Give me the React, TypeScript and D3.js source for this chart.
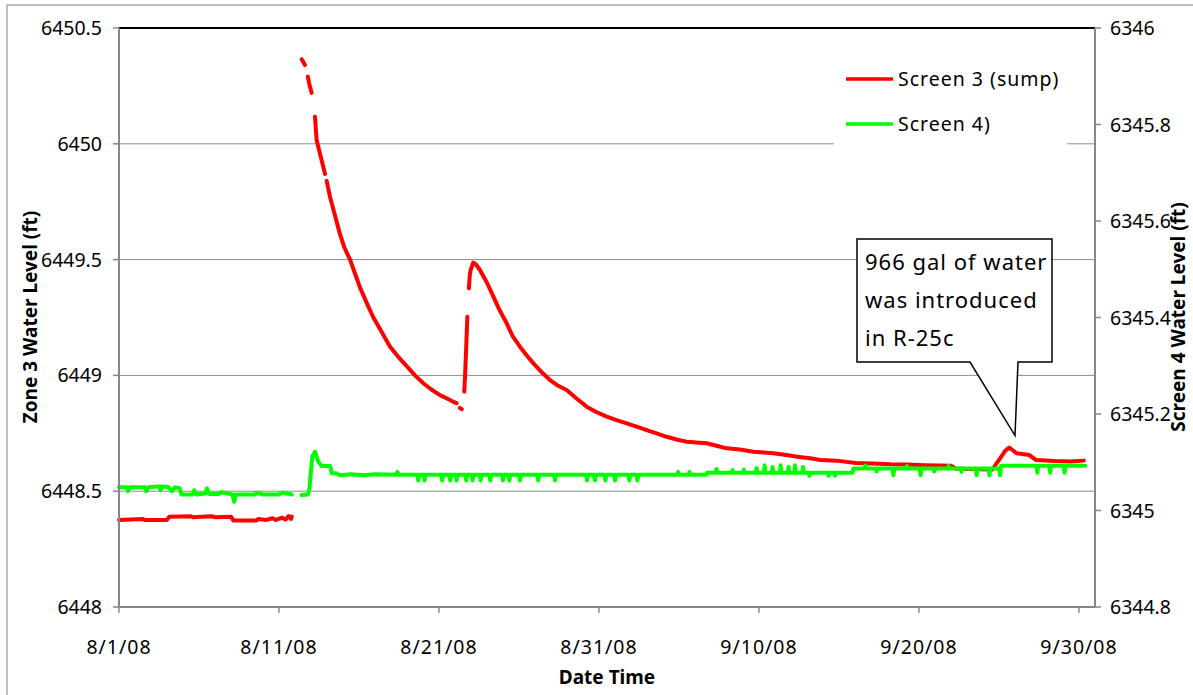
import React from 'react';
import * as d3 from 'd3';

// ---------- data ----------
const START = new Date(2008, 7, 1);
const END = new Date(2008, 9, 1);
const xTickDays = [0, 10, 20, 30, 40, 50, 60];
const leftTicks = [6448, 6448.5, 6449, 6449.5, 6450, 6450.5];
const rightTicks = [6344.8, 6345, 6345.2, 6345.4, 6345.6, 6345.8, 6346];
const gridTicks = [6448.5, 6449, 6449.5, 6450];
const seriesNames = ['Screen 3 (sump)', 'Screen 4)'];
const seriesColors = ['#ff0000', '#00ff00'];
const calloutLines = ['966 gal of water', 'was introduced', 'in R-25c'];
const calloutTarget: [number, number] = [56.0, 6448.74];
const xTitle = 'Date Time';
const leftTitle = 'Zone 3 Water Level (ft)';
const rightTitle = 'Screen 4 Water Level (ft)';

type P = [number, number | null];

// Screen 3 (sump): [day since 8/1/08, level ft] on left axis
const screen3: P[] = [
  [0, 6448.376], [1.5, 6448.38], [1.6, 6448.376], [3.0, 6448.376], [3.15, 6448.39],
  [4.5, 6448.392], [4.6, 6448.388], [5.8, 6448.392], [6.0, 6448.388], [7.0, 6448.39],
  [7.15, 6448.374], [8.6, 6448.374], [8.7, 6448.38], [9.2, 6448.376], [9.6, 6448.383],
  [9.8, 6448.376], [10.2, 6448.386], [10.4, 6448.377], [10.6, 6448.392], [10.75, 6448.38],
  [10.8, 6448.39],
  [10.9, null],
  [11.42, 6450.365], [11.5, 6450.355], [11.62, 6450.34],
  [11.7, null],
  [11.8, 6450.29], [11.92, 6450.25], [12.04, 6450.22],
  [12.1, null],
  [12.25, 6450.117], [12.35, 6450.016], [12.55, 6449.96], [12.77, 6449.9], [12.88, 6449.87],
  [12.92, null],
  [12.98, 6449.84], [13.19, 6449.77], [13.5, 6449.69], [13.81, 6449.61], [14.1, 6449.55],
  [14.44, 6449.5], [14.75, 6449.44], [15.06, 6449.38], [15.5, 6449.31], [15.9, 6449.25],
  [16.4, 6449.19], [16.94, 6449.124], [17.45, 6449.08], [17.98, 6449.04], [18.5, 6449.0],
  [19.02, 6448.966], [19.5, 6448.94], [20.06, 6448.915], [20.5, 6448.9], [20.9, 6448.886],
  [21.1, 6448.88],
  [21.2, null],
  [21.3, 6448.86], [21.42, 6448.854],
  [21.5, null],
  [21.58, 6448.93], [21.63, 6449.0], [21.7, 6449.12], [21.77, 6449.253],
  [21.82, null],
  [21.87, 6449.376], [21.92, 6449.43], [21.98, 6449.455], [22.14, 6449.487], [22.3, 6449.48],
  [22.56, 6449.455], [23.0, 6449.4], [23.4, 6449.34], [23.8, 6449.28], [24.23, 6449.225],
  [24.6, 6449.17], [25.06, 6449.124], [25.5, 6449.085], [25.9, 6449.052], [26.4, 6449.015],
  [26.94, 6448.98], [27.45, 6448.955], [27.98, 6448.937], [28.6, 6448.9], [29.23, 6448.865],
  [29.8, 6448.843], [30.48, 6448.822], [31.1, 6448.807], [31.73, 6448.793], [32.4, 6448.778],
  [32.98, 6448.764], [33.6, 6448.75], [34.23, 6448.735], [34.9, 6448.722], [35.48, 6448.714],
  [36.1, 6448.71], [36.73, 6448.707], [37.4, 6448.695], [37.98, 6448.685], [38.8, 6448.68],
  [39.65, 6448.67], [40.3, 6448.667], [40.9, 6448.664], [41.7, 6448.656], [42.5, 6448.648],
  [43.2, 6448.642], [43.84, 6448.635], [44.85, 6448.632], [46.04, 6448.622], [47.1, 6448.62],
  [48.23, 6448.616], [49.2, 6448.615], [50.4, 6448.612], [51.3, 6448.611], [52.0, 6448.61],
  [52.3, 6448.598], [53.0, 6448.596], [54.6, 6448.594], [54.75, 6448.61], [55.1, 6448.645],
  [55.4, 6448.675], [55.64, 6448.688], [55.8, 6448.68], [56.1, 6448.664], [56.9, 6448.656],
  [57.3, 6448.635], [58.5, 6448.63], [59.5, 6448.628], [60.3, 6448.632],
];

// Screen 4: [day since 8/1/08, level ft] on right axis
const screen4: P[] = [
  [0, 6345.048], [0.5, 6345.048], [0.55, 6345.04], [0.7, 6345.048], [1.6, 6345.048],
  [1.7, 6345.04], [1.85, 6345.048], [2.5, 6345.05], [2.6, 6345.042], [2.7, 6345.05],
  [3.1, 6345.048], [3.3, 6345.04], [3.5, 6345.048], [3.8, 6345.046], [3.9, 6345.033],
  [4.6, 6345.033], [4.7, 6345.042], [4.85, 6345.033], [5.4, 6345.035], [5.5, 6345.046],
  [5.65, 6345.034], [6.2, 6345.034], [6.4, 6345.038], [7.1, 6345.033], [7.2, 6345.018],
  [7.3, 6345.033], [8.5, 6345.033], [8.6, 6345.037], [9.0, 6345.033], [10.0, 6345.033],
  [10.2, 6345.037], [10.8, 6345.033],
  [11.0, null],
  [11.42, 6345.032], [11.8, 6345.033], [11.9, 6345.045], [12.08, 6345.112], [12.25, 6345.122],
  [12.46, 6345.101], [12.67, 6345.092], [13.2, 6345.092], [13.3, 6345.077], [13.6, 6345.077],
  [13.8, 6345.073], [14.5, 6345.075], [15.3, 6345.073], [16.0, 6345.075], [17.3, 6345.074],
  [17.4, 6345.08], [17.5, 6345.074],
  [18.65, 6345.074], [18.7, 6345.062], [18.75, 6345.074], [19.05, 6345.074], [19.1, 6345.062], [19.15, 6345.074],
  [20.15, 6345.074], [20.2, 6345.062], [20.25, 6345.074], [20.65, 6345.074], [20.7, 6345.062], [20.75, 6345.074],
  [21.05, 6345.074], [21.1, 6345.062], [21.15, 6345.074], [21.65, 6345.074], [21.7, 6345.062], [21.75, 6345.074],
  [22.05, 6345.074], [22.1, 6345.062], [22.15, 6345.074], [22.55, 6345.074], [22.6, 6345.062], [22.65, 6345.074],
  [23.15, 6345.074], [23.2, 6345.062], [23.25, 6345.074], [23.95, 6345.074], [24.0, 6345.062], [24.05, 6345.074],
  [24.35, 6345.074], [24.4, 6345.062], [24.45, 6345.074], [25.0, 6345.074], [25.06, 6345.062], [25.12, 6345.074],
  [26.15, 6345.074], [26.2, 6345.062], [26.25, 6345.074], [27.2, 6345.074], [27.25, 6345.062], [27.3, 6345.074],
  [29.2, 6345.074], [29.25, 6345.062], [29.3, 6345.074], [29.7, 6345.074], [29.75, 6345.062], [29.8, 6345.074],
  [30.35, 6345.074], [30.4, 6345.062], [30.45, 6345.074], [30.95, 6345.074], [31.0, 6345.062], [31.05, 6345.074],
  [31.85, 6345.074], [31.9, 6345.062], [31.95, 6345.074], [32.35, 6345.074], [32.4, 6345.062], [32.45, 6345.074],
  [34.9, 6345.074], [34.95, 6345.08], [35.0, 6345.074], [35.6, 6345.074], [35.65, 6345.08], [35.7, 6345.074],
  [36.7, 6345.074], [36.75, 6345.078],
  [37.3, 6345.078], [37.35, 6345.086], [37.4, 6345.078], [38.3, 6345.078], [38.35, 6345.084], [38.4, 6345.078],
  [39.0, 6345.078], [39.05, 6345.085], [39.1, 6345.078], [39.8, 6345.078], [39.85, 6345.088], [39.9, 6345.078],
  [40.3, 6345.078], [40.35, 6345.094], [40.4, 6345.078], [40.8, 6345.078], [40.85, 6345.09], [40.9, 6345.078],
  [41.3, 6345.078], [41.35, 6345.094], [41.4, 6345.078], [41.8, 6345.078], [41.85, 6345.09], [41.9, 6345.078],
  [42.2, 6345.078], [42.25, 6345.094], [42.3, 6345.078], [42.7, 6345.078], [42.75, 6345.09], [42.8, 6345.078],
  [43.1, 6345.078], [43.15, 6345.072], [43.2, 6345.078], [44.3, 6345.078], [44.35, 6345.072], [44.4, 6345.078],
  [44.7, 6345.078], [44.75, 6345.072], [44.8, 6345.078], [45.85, 6345.078], [45.9, 6345.087],
  [46.6, 6345.087], [46.65, 6345.093], [46.7, 6345.087], [47.3, 6345.087], [47.35, 6345.081], [47.4, 6345.087],
  [48.35, 6345.087], [48.4, 6345.073], [48.45, 6345.087], [49.2, 6345.087], [49.25, 6345.092], [49.3, 6345.087],
  [50.05, 6345.087], [50.1, 6345.073], [50.15, 6345.087], [50.9, 6345.087], [50.95, 6345.081], [51.0, 6345.087],
  [51.8, 6345.087], [51.85, 6345.092], [51.9, 6345.087], [52.6, 6345.087], [52.65, 6345.08], [52.7, 6345.087],
  [53.55, 6345.087], [53.6, 6345.073], [53.65, 6345.087], [54.35, 6345.087], [54.4, 6345.073], [54.45, 6345.087],
  [55.0, 6345.087], [55.06, 6345.073], [55.12, 6345.093],
  [57.35, 6345.093], [57.4, 6345.078], [57.45, 6345.093], [58.15, 6345.093], [58.2, 6345.078], [58.25, 6345.093],
  [59.05, 6345.093], [59.1, 6345.078], [59.15, 6345.093], [60.4, 6345.093],
];

// ---------- chart ----------
const W = 1193;
const H = 695;
const M = { left: 119, right: 1095, top: 28, bottom: 607 };
const FONT = "'Noto Sans', 'Open Sans', sans-serif";

const dayToDate = (d: number) => new Date(START.getTime() + d * 86400000);

export default function App() {
  const x = d3.scaleTime().domain([START, END]).range([M.left, M.right]);
  const yL = d3.scaleLinear().domain([6448, 6450.5]).range([M.bottom, M.top]);
  const yR = d3.scaleLinear().domain([6344.8, 6346]).range([M.bottom, M.top]);
  const fmtDate = d3.timeFormat('%-m/%-d/%y');

  const lineL = d3
    .line<P>()
    .defined((p) => p[1] !== null)
    .x((p) => x(dayToDate(p[0])))
    .y((p) => yL(p[1] as number));
  const lineR = d3
    .line<P>()
    .defined((p) => p[1] !== null)
    .x((p) => x(dayToDate(p[0])))
    .y((p) => yR(p[1] as number));

  const tipX = x(dayToDate(calloutTarget[0]));
  const tipY = yL(calloutTarget[1]);
  const box = { x0: 857, y0: 239, x1: 1052, y1: 362, b0: 970, b1: 1018 };
  const calloutPath = `M${box.x0},${box.y0}H${box.x1}V${box.y1}H${box.b1}L${tipX},${tipY}L${box.b0},${box.y1}H${box.x0}Z`;

  const axisGray = '#868686';
  const tickFont = 19.5;

  return (
    <svg
      width={W}
      height={H}
      style={{ position: 'absolute', left: 0, top: 0, background: '#fff' }}
      fontFamily={FONT}
    >
      <rect x={0} y={0} width={W} height={H} fill="#fff" />
      <rect x={7} y={5} width={W + 20} height={H + 20} fill="none" stroke="#a8a8a8" strokeWidth={1.5} />

      {/* gridlines */}
      {gridTicks.map((v) => (
        <line key={v} x1={M.left} x2={M.right} y1={yL(v)} y2={yL(v)} stroke="#8c8c8c" strokeWidth={1} />
      ))}

      {/* plot border top */}
      <line x1={M.left} x2={M.right} y1={M.top} y2={M.top} stroke="#000" strokeWidth={2} />

      {/* series */}
      <path d={lineL(screen3) || ''} fill="none" stroke={seriesColors[0]} strokeWidth={4} strokeLinejoin="round" strokeLinecap="round" />
      <path d={lineR(screen4) || ''} fill="none" stroke={seriesColors[1]} strokeWidth={4} strokeLinejoin="round" strokeLinecap="round" />

      {/* axes */}
      <line x1={M.left} x2={M.left} y1={M.top} y2={M.bottom} stroke={axisGray} strokeWidth={2} />
      <line x1={M.right} x2={M.right} y1={M.top} y2={M.bottom} stroke={axisGray} strokeWidth={2} />
      <line x1={M.left} x2={M.right} y1={M.bottom} y2={M.bottom} stroke={axisGray} strokeWidth={2} />

      {leftTicks.map((v) => (
        <g key={'l' + v}>
          <line x1={M.left - 6} x2={M.left} y1={yL(v)} y2={yL(v)} stroke={axisGray} strokeWidth={1.5} />
          <text x={102} y={yL(v)} dy="0.36em" textAnchor="end" fontSize={tickFont} fill="#000">
            {String(v)}
          </text>
        </g>
      ))}
      {rightTicks.map((v) => (
        <g key={'r' + v}>
          <line x1={M.right} x2={M.right + 6} y1={yR(v)} y2={yR(v)} stroke={axisGray} strokeWidth={1.5} />
          <text x={1110} y={yR(v)} dy="0.36em" textAnchor="start" fontSize={tickFont} fill="#000">
            {d3.format('.1~f')(v)}
          </text>
        </g>
      ))}
      {xTickDays.map((d) => {
        const dt = d3.timeDay.offset(START, d);
        return (
          <g key={'x' + d}>
            <line x1={x(dt)} x2={x(dt)} y1={M.bottom} y2={M.bottom + 6} stroke={axisGray} strokeWidth={1.5} />
            <text x={x(dt)} y={654} textAnchor="middle" fontSize={tickFont} letterSpacing={1} fill="#000">
              {fmtDate(dt)}
            </text>
          </g>
        );
      })}

      {/* axis titles */}
      <text x={607} y={684} textAnchor="middle" fontSize={19} fontWeight="bold" fill="#000">
        {xTitle}
      </text>
      <text transform="translate(37,317) rotate(-90)" textAnchor="middle" fontSize={19} fontWeight="bold" fill="#000">
        {leftTitle}
      </text>
      <text transform="translate(1185,317) rotate(-90)" textAnchor="middle" fontSize={19} fontWeight="bold" fill="#000">
        {rightTitle}
      </text>

      {/* legend */}
      <rect x={834} y={52} width={233} height={96} fill="#fff" />
      {seriesNames.map((n, i) => (
        <g key={n}>
          <line x1={846} x2={893} y1={79 + i * 45} y2={79 + i * 45} stroke={seriesColors[i]} strokeWidth={3.5} />
          <text x={898} y={79 + i * 45} dy="0.36em" fontSize={19.5} letterSpacing={1} fill="#000">
            {n}
          </text>
        </g>
      ))}

      {/* callout */}
      <path d={calloutPath} fill="#fff" stroke="#000" strokeWidth={1.5} />
      {calloutLines.map((t, i) => (
        <text key={t} x={865} y={270 + i * 38} fontSize={22} letterSpacing={1} fill="#000">
          {t}
        </text>
      ))}
    </svg>
  );
}
